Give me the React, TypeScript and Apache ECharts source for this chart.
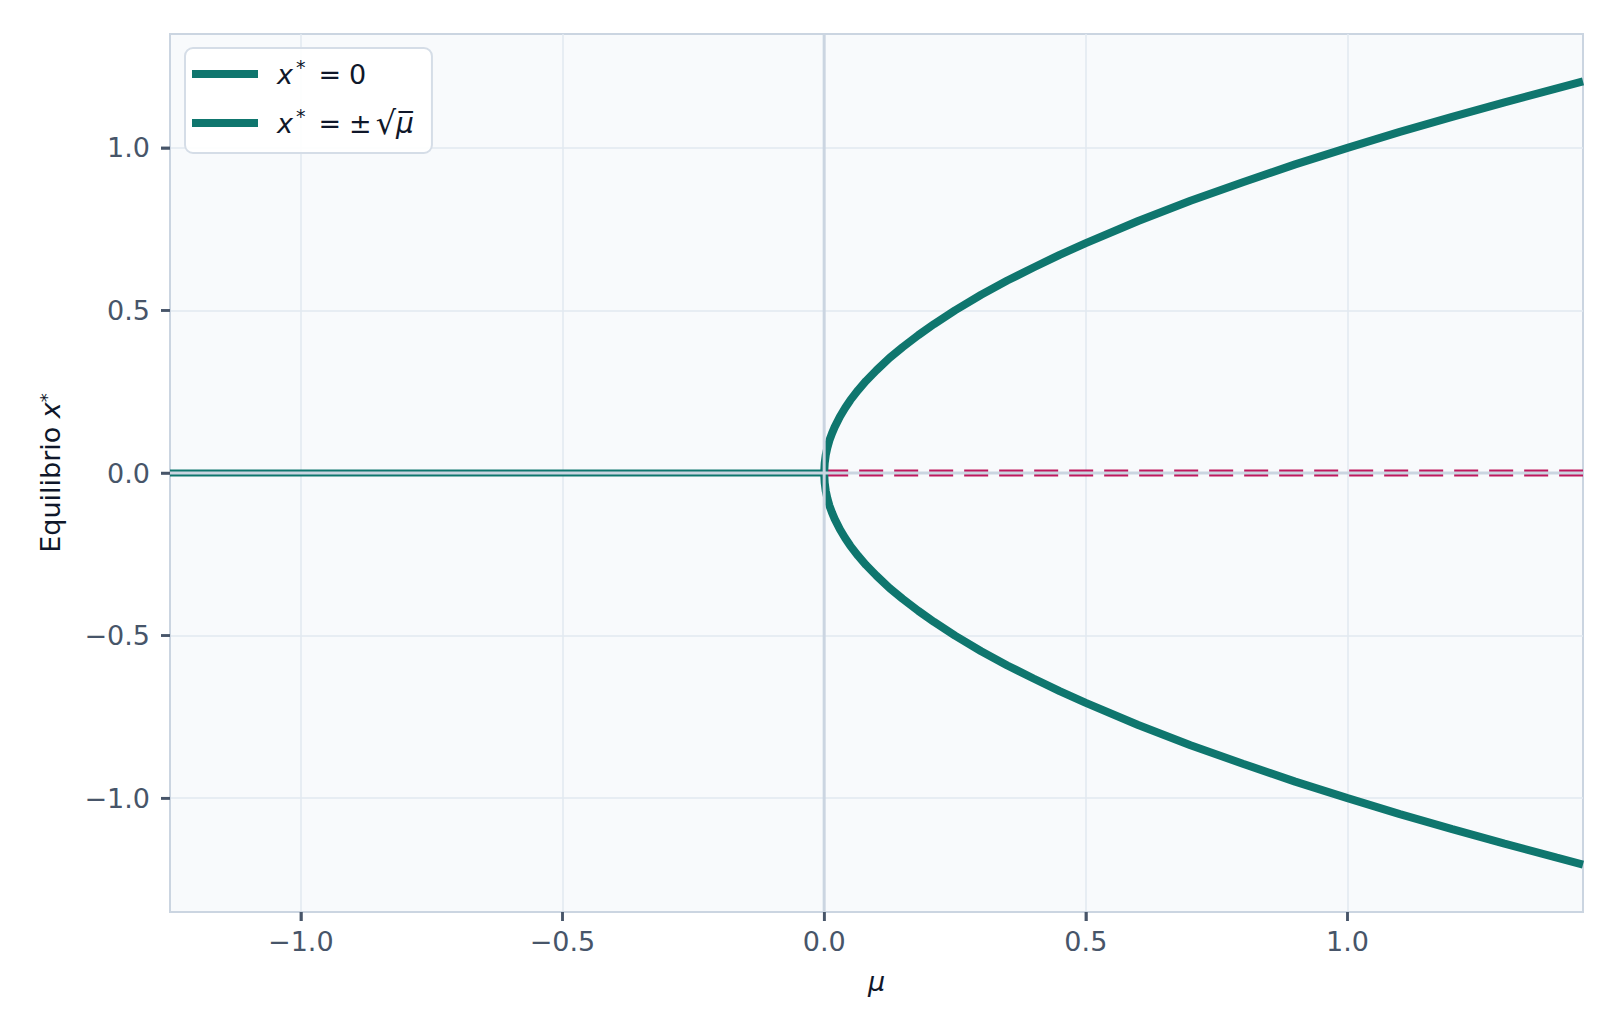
import { useEffect, useRef } from "react";
import * as echarts from "echarts";

// μ values sampled along the ±√μ branches
const branchMu = [
  0, 0.001, 0.003, 0.006, 0.01, 0.015, 0.02, 0.03, 0.04, 0.05, 0.065, 0.08, 0.1, 0.125, 0.15, 0.18,
  0.21, 0.25, 0.3, 0.35, 0.4, 0.45, 0.5, 0.6, 0.7, 0.8, 0.9, 1.0, 1.1, 1.2, 1.3, 1.4, 1.45,
];
const branchUpper = [
  0, 0.03, 0.055, 0.077, 0.1, 0.122, 0.141, 0.173, 0.2, 0.224, 0.255, 0.283, 0.316, 0.354, 0.387,
  0.424, 0.458, 0.5, 0.548, 0.592, 0.632, 0.671, 0.707, 0.775, 0.837, 0.894, 0.949, 1.0, 1.049,
  1.095, 1.14, 1.183, 1.204,
];
const branchLower = [
  0, -0.03, -0.055, -0.077, -0.1, -0.122, -0.141, -0.173, -0.2, -0.224, -0.255, -0.283, -0.316,
  -0.354, -0.387, -0.424, -0.458, -0.5, -0.548, -0.592, -0.632, -0.671, -0.707, -0.775, -0.837,
  -0.894, -0.949, -1.0, -1.049, -1.095, -1.14, -1.183, -1.204,
];

// x* = 0 : stable for μ < 0, unstable for μ > 0
const stableMu = [-1.25, 0];
const unstableMu = [0, 1.45];

const tickValues = [-1, -0.5, 0, 0.5, 1];

const MU_RANGE = [-1.25, 1.45];
const X_RANGE = [-1.35, 1.35];

const TEAL = "#0f766e";
const CRIMSON = "#be185d";
const ZERO_GRAY = "#cbd5e1";
const GRID = "#e2e8f0";
const TICK = "#475569";
const INK = "#0f172a";
const FONT = "DejaVu Sans";
const TICK_LEN = 9;

const fmt = (v: number) => v.toFixed(1).replace("-", "\u2212");

const rich = {
  it: { fontStyle: "italic", fontSize: 27, fontFamily: FONT, color: INK },
  sup: { fontSize: 19, fontFamily: FONT, color: INK, verticalAlign: "top", lineHeight: 20, padding: [0, 0, 0, 3] },
  eq: { fontSize: 27, fontFamily: FONT, color: INK, padding: [0, 8, 0, 13] },
  t: { fontSize: 27, fontFamily: FONT, color: INK },
  rad: { fontSize: 32, fontFamily: FONT, color: INK, padding: [0, 0, 0, 4] },
  ov: { fontStyle: "italic", fontSize: 28, fontFamily: FONT, color: INK },
};

// outward tick marks, placed through the axes' own scales
function tickSeries(dir: "x" | "y") {
  return {
    name: `ticks-${dir}`,
    type: "custom",
    silent: true,
    clip: false,
    z: 6,
    data: tickValues.map((v) => (dir === "x" ? [v, X_RANGE[0]] : [MU_RANGE[0], v])),
    renderItem: (_params: unknown, api: any) => {
      const p = api.coord([api.value(0), api.value(1)]);
      const shape =
        dir === "x"
          ? { x1: p[0], y1: p[1], x2: p[0], y2: p[1] + TICK_LEN }
          : { x1: p[0], y1: p[1], x2: p[0] - TICK_LEN, y2: p[1] };
      return { type: "line", shape, style: { stroke: TICK, lineWidth: 2.5 } };
    },
  };
}

const axisTick = {
  show: true,
  length: TICK_LEN,
  customValues: tickValues,
  lineStyle: { color: TICK, width: 2.5 },
};

function buildOption(): echarts.EChartsOption {
  const branch = [
    ...branchMu.map((m, i) => [m, branchLower[i]]).reverse(),
    ...branchMu.map((m, i) => [m, branchUpper[i]]),
  ];
  return {
    animation: false,
    grid: {
      left: 170,
      right: 34,
      top: 34,
      bottom: 119,
      show: true,
      backgroundColor: "#f8fafc",
      borderColor: ZERO_GRAY,
      borderWidth: 2,
    },
    legend: {
      left: 185,
      top: 48,
      orient: "vertical",
      selectedMode: false,
      data: ["x* = 0", "x* = ±√μ"],
      icon: "rect",
      itemWidth: 66,
      itemHeight: 8,
      itemGap: 15,
      padding: [9, 18, 13, 7],
      backgroundColor: "rgba(255,255,255,0.9)",
      borderColor: "#d5dde7",
      borderWidth: 2,
      borderRadius: 8,
      formatter: (name: string) =>
        name === "x* = 0"
          ? "{it|x}{sup|*}{eq|=}{t|0}"
          : "{it|x}{sup|*}{eq|=}{t|±}{rad|√}{ov|μ\u0305}",
      textStyle: {
        color: INK,
        fontFamily: FONT,
        fontSize: 27,
        lineHeight: 34,
        padding: [0, 0, 0, 14],
        rich,
      },
    },
    xAxis: {
      type: "value",
      min: MU_RANGE[0],
      max: MU_RANGE[1],
      splitNumber: 5,
      name: "μ",
      nameLocation: "middle",
      nameGap: 56,
      nameTextStyle: { fontFamily: FONT, fontStyle: "italic", fontSize: 27, color: INK },
      axisLine: { show: true, onZero: false, lineStyle: { color: ZERO_GRAY, width: 2 } },
      axisTick,
      splitLine: { show: true, lineStyle: { color: GRID, width: 1.5 } },
      axisLabel: {
        customValues: tickValues,
        formatter: fmt,
        margin: 16,
        fontFamily: FONT,
        fontSize: 27,
        color: TICK,
      },
    },
    yAxis: {
      type: "value",
      min: X_RANGE[0],
      max: X_RANGE[1],
      splitNumber: 5,
      name: "Equilibrio {it|x}{sup|*}",
      nameLocation: "middle",
      nameRotate: 90,
      nameGap: 106,
      nameTextStyle: {
        fontFamily: FONT,
        fontSize: 27,
        color: INK,
        rich: {
          it: { fontStyle: "italic", fontSize: 27, fontFamily: FONT, color: INK },
          sup: { fontSize: 18, fontFamily: FONT, color: INK, verticalAlign: "top", lineHeight: 20 },
        },
      },
      axisLine: { show: true, onZero: false, lineStyle: { color: ZERO_GRAY, width: 2 } },
      axisTick,
      splitLine: { show: true, lineStyle: { color: GRID, width: 1.5 } },
      axisLabel: {
        customValues: tickValues,
        formatter: fmt,
        margin: 20,
        fontFamily: FONT,
        fontSize: 27,
        color: TICK,
      },
    },
    series: [
      {
        name: "x* = 0",
        type: "line",
        data: stableMu.map((m) => [m, 0]),
        showSymbol: false,
        lineStyle: { color: TEAL, width: 7 },
        itemStyle: { color: TEAL },
        z: 2,
      },
      {
        name: "unstable",
        type: "line",
        data: unstableMu.map((m) => [m, 0]),
        showSymbol: false,
        lineStyle: { color: CRIMSON, width: 7, type: [24, 11] },
        itemStyle: { color: CRIMSON },
        z: 2,
      },
      {
        name: "x* = ±√μ",
        type: "line",
        data: branch,
        showSymbol: false,
        lineStyle: { color: TEAL, width: 8 },
        itemStyle: { color: TEAL },
        z: 3,
      },
      {
        name: "zero-h",
        type: "line",
        data: MU_RANGE.map((m) => [m, 0]),
        showSymbol: false,
        lineStyle: { color: ZERO_GRAY, width: 3 },
        z: 4,
        silent: true,
      },
      {
        name: "zero-v",
        type: "line",
        data: X_RANGE.map((x) => [0, x]),
        showSymbol: false,
        lineStyle: { color: ZERO_GRAY, width: 3 },
        z: 4,
        silent: true,
      },
      tickSeries("x") as any,
      tickSeries("y") as any,
    ],
  };
}

export default function App() {
  const ref = useRef<HTMLDivElement | null>(null);

  useEffect(() => {
    const el = ref.current;
    if (!el) return;
    const chart = echarts.init(el, undefined, { renderer: "svg" });
    chart.setOption(buildOption());
    return () => {
      chart.dispose();
    };
  }, []);

  return (
    <div
      ref={ref}
      style={{ position: "fixed", left: 0, top: 0, width: 1617, height: 1031, background: "#ffffff" }}
    />
  );
}
